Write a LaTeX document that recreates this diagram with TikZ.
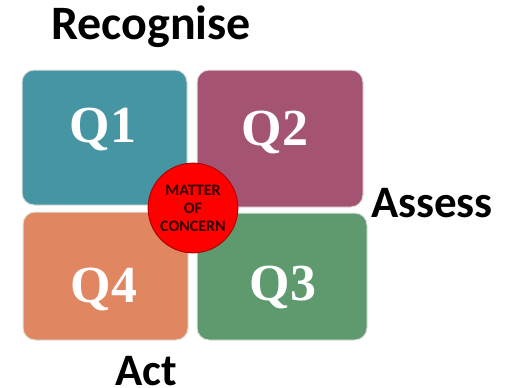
\documentclass[tikz,border=0pt]{standalone}
\usepackage{fontspec}
\setmainfont{Carlito}
\newfontfamily\qfont{Liberation Serif}
\usepackage{xcolor}
\usepackage{tikz}
\usetikzlibrary{positioning}

\definecolor{qone}{HTML}{4595A3}
\definecolor{qtwo}{HTML}{A55373}
\definecolor{qthree}{HTML}{5E9A6E}
\definecolor{qfour}{HTML}{E08660}

\tikzset{
  quad/.style={rectangle, rounded corners=12pt, draw=black!12, line width=1pt},
  qtext/.style={anchor=base, inner sep=0pt, text=white,
    font=\qfont\bfseries\fontsize{52}{52}\selectfont},
  label/.style={anchor=base, inner sep=0pt, text=black, font=\bfseries}
}

\begin{document}
\begin{tikzpicture}[x=1pt, y=-1pt]
  \useasboundingbox (0,0) rectangle (522,388);
  % the four quadrants
  \node[quad, fill=qone, minimum width=165pt, minimum height=135pt] (q1) at (104.5,137.5) {};
  \node[quad, fill=qtwo, minimum width=166pt, minimum height=137pt] (q2) at (280,138.5) {};
  \node[quad, fill=qfour, minimum width=165pt, minimum height=128pt] (q4) at (105.5,276) {};
  \node[quad, fill=qthree, minimum width=170pt, minimum height=127pt] (q3) at (282,276.5) {};
  \node[qtext] (q1t) at (103,142) {Q1};
  \node[qtext] (q2t) at (275,145) {Q2};
  \node[qtext] (q4t) at (104,302) {Q4};
  \node[qtext] (q3t) at (283,300) {Q3};
  % centre
  \node[circle, fill=red, draw=red!70!black, line width=1pt, minimum size=88pt,
        align=center, text=black!80!red, font=\bfseries\fontsize{16}{18}\selectfont]
        (moc) at (193,208) {MATTER\\OF\\CONCERN};
  % stages
  \node[label, font=\bfseries\fontsize{48}{48}\selectfont] (rec) at (151,39) {Recognise};
  \node[label, font=\bfseries\fontsize{45}{45}\selectfont] (ass) at (432,217) {Assess};
  \node[label, font=\bfseries\fontsize{45}{45}\selectfont] (act) at (146.5,385) {Act};
\end{tikzpicture}
\end{document}
